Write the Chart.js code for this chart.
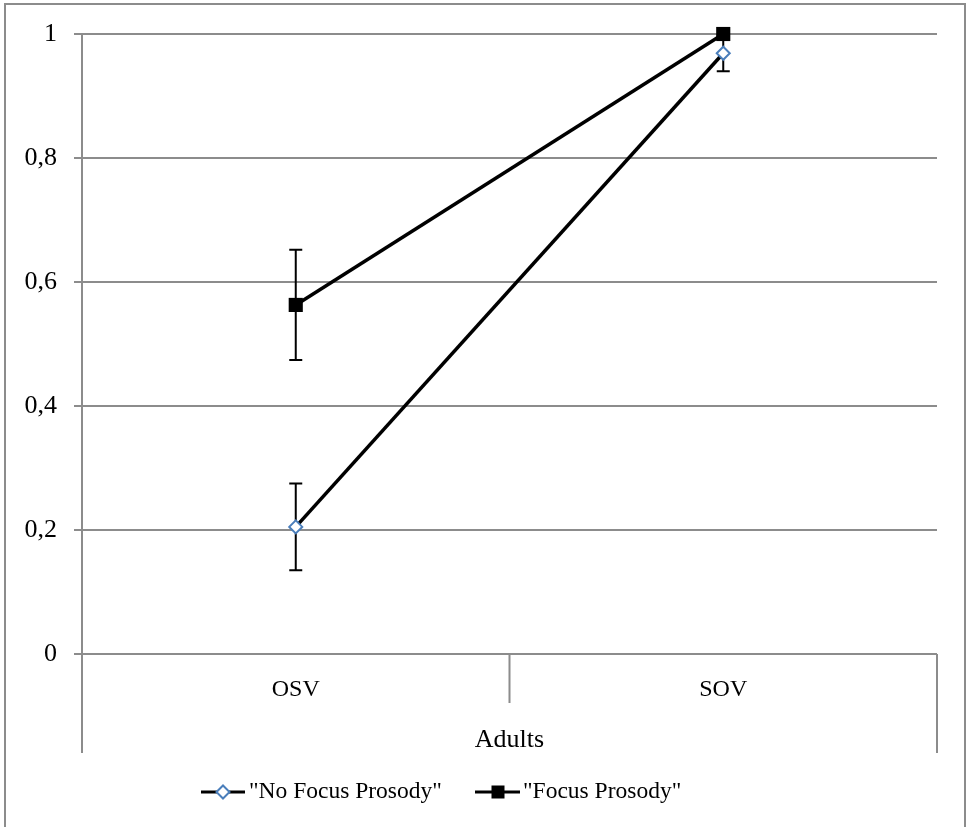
<!DOCTYPE html>
<html>
<head>
<meta charset="utf-8">
<script src="https://cdn.jsdelivr.net/npm/chart.js@4/dist/chart.umd.min.js"></script>
<style>
  html, body { margin: 0; padding: 0; background: #fff; overflow: hidden; }
  canvas { display: block; }
</style>
</head>
<body>
<canvas id="c" width="966" height="827"></canvas>
<script>
const categories = ["OSV", "SOV"];
const groupLabel = "Adults";
const seriesNames = ['"No Focus Prosody"', '"Focus Prosody"'];
const noFocus = [0.205, 0.969];
const noFocusErr = [0.070, 0.029];
const focus = [0.563, 1.0];
const focusErr = [0.089, 0.0];
const yTicks = [0, 0.2, 0.4, 0.6, 0.8, 1];

const FONT = "'Liberation Serif', 'Times New Roman', serif";
const GRID = '#8c8c8c';

const errs = [noFocusErr, focusErr];

const errorBars = {
  id: 'errorBars',
  beforeDatasetsDraw(chart) {
    const ctx = chart.ctx, xs = chart.scales.x, ys = chart.scales.y;
    ctx.save();
    ctx.strokeStyle = '#000';
    ctx.lineWidth = 2;
    chart.data.datasets.forEach((ds, di) => {
      ds.data.forEach((v, i) => {
        const e = errs[di][i];
        if (!e) return;
        const x = xs.getPixelForValue(i);
        const y1 = ys.getPixelForValue(v + e);
        const y2 = ys.getPixelForValue(v - e);
        ctx.beginPath();
        ctx.moveTo(x, y1); ctx.lineTo(x, y2);
        ctx.moveTo(x - 6.5, y1); ctx.lineTo(x + 6.5, y1);
        ctx.moveTo(x - 6.5, y2); ctx.lineTo(x + 6.5, y2);
        ctx.stroke();
      });
    });
    ctx.restore();
  }
};

const chrome = {
  id: 'chrome',
  beforeDraw(chart) {
    const ctx = chart.ctx;
    ctx.save();
    ctx.fillStyle = '#fff';
    ctx.fillRect(0, 0, chart.width, chart.height);
    ctx.strokeStyle = '#8c8c8c';
    ctx.lineWidth = 2;
    ctx.strokeRect(5, 4, 960, 840);
    ctx.restore();
  },
  afterDraw(chart) {
    const ctx = chart.ctx, xs = chart.scales.x, ys = chart.scales.y;
    const top = ys.getPixelForValue(0);
    const left = xs.left, right = xs.right;
    const mid = (xs.getPixelForValue(0) + xs.getPixelForValue(1)) / 2;
    ctx.save();
    ctx.strokeStyle = GRID;
    ctx.lineWidth = 2;
    ctx.beginPath();
    ctx.moveTo(left, top); ctx.lineTo(left, top + 99);
    ctx.moveTo(right, top); ctx.lineTo(right, top + 99);
    ctx.moveTo(mid, top); ctx.lineTo(mid, top + 49);
    ctx.stroke();

    // legend
    const ly = 792;
    ctx.font = "23.5px " + FONT;
    ctx.fillStyle = '#000';
    ctx.textBaseline = 'middle';
    ctx.textAlign = 'left';
    ctx.lineWidth = 3;
    ctx.strokeStyle = '#000';
    ctx.beginPath(); ctx.moveTo(201, ly); ctx.lineTo(245, ly); ctx.stroke();
    ctx.beginPath();
    ctx.moveTo(223 - 6.5, ly); ctx.lineTo(223, ly - 6.5); ctx.lineTo(223 + 6.5, ly); ctx.lineTo(223, ly + 6.5); ctx.closePath();
    ctx.fillStyle = '#fff'; ctx.fill();
    ctx.strokeStyle = '#4a7ebb'; ctx.lineWidth = 2; ctx.stroke();
    ctx.fillStyle = '#000';
    ctx.fillText(seriesNames[0], 249, ly);
    ctx.strokeStyle = '#000'; ctx.lineWidth = 3;
    ctx.beginPath(); ctx.moveTo(475, ly); ctx.lineTo(520, ly); ctx.stroke();
    ctx.fillRect(498 - 6.5, ly - 6.5, 13, 13);
    ctx.fillText(seriesNames[1], 523, ly);
    ctx.restore();
  }
};

new Chart(document.getElementById('c'), {
  type: 'line',
  data: {
    labels: categories,
    datasets: [
      {
        label: seriesNames[0],
        data: noFocus,
        borderColor: '#000',
        borderWidth: 3.5,
        pointStyle: 'rectRot',
        pointRadius: 6.5,
        pointBackgroundColor: '#fff',
        pointBorderColor: '#4a7ebb',
        pointBorderWidth: 2,
        tension: 0,
        clip: false
      },
      {
        label: seriesNames[1],
        data: focus,
        borderColor: '#000',
        borderWidth: 3.5,
        pointStyle: 'rect',
        pointRadius: 10,
        pointBackgroundColor: '#000',
        pointBorderColor: '#000',
        pointBorderWidth: 0,
        tension: 0,
        clip: false
      }
    ]
  },
  options: {
    responsive: false,
    animation: false,
    devicePixelRatio: 1,
    layout: { padding: { top: 34, right: 29, left: 0, bottom: 0 } },
    plugins: { legend: { display: false }, tooltip: { enabled: false } },
    scales: {
      x: {
        type: 'category',
        offset: true,
        grid: { display: false, drawTicks: false },
        border: { display: false },
        ticks: { color: '#000', font: { family: FONT, size: 24 }, padding: 21 },
        title: { display: true, text: groupLabel, color: '#000', font: { family: FONT, size: 26 }, padding: { top: 0, bottom: 71 } },
        afterFit(s) { s.height = 827 - 654; }
      },
      y: {
        min: 0, max: 1,
        afterBuildTicks(s) { s.ticks = yTicks.map(v => ({ value: v })); },
        grid: { color: GRID, lineWidth: 2, tickLength: 8 },
        border: { color: GRID, width: 2 },
        ticks: {
          color: '#000', font: { family: FONT, size: 26 }, padding: 17,
          callback: v => String(v).replace('.', ',')
        },
        afterFit(s) { s.width = 82; }
      }
    }
  },
  plugins: [chrome, errorBars]
});
</script>
</body>
</html>
